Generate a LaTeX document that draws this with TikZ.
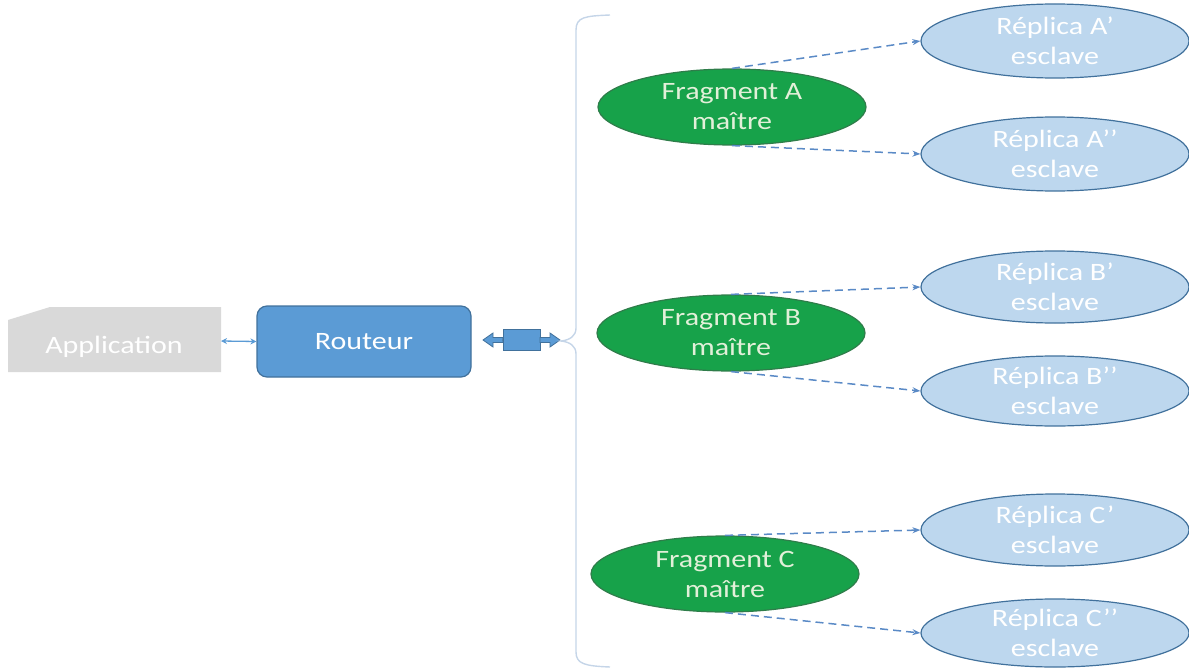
\documentclass[tikz,border=0pt]{standalone}
\usepackage{fontspec}
\setmainfont[FakeStretch=1.2]{Carlito}
\usetikzlibrary{shapes.geometric,arrows.meta}
\definecolor{gfill}{HTML}{17A24A}
\definecolor{gline}{HTML}{2F7D4A}
\definecolor{gtext}{HTML}{E2F0D9}
\definecolor{rfill}{HTML}{BDD7EE}
\definecolor{bline}{HTML}{41719C}
\definecolor{bfill}{HTML}{5B9BD5}
\definecolor{afill}{HTML}{D9D9D9}
\definecolor{dash}{HTML}{5A8AC6}
\definecolor{brace}{HTML}{C5D5E8}
\tikzset{
  master/.style={ellipse,draw=gline,fill=gfill,line width=1.2pt,minimum width=268pt,minimum height=76pt,inner sep=0pt,align=center,text=gtext,font=\fontsize{25}{30}\selectfont},
  replica/.style={ellipse,draw=bline,fill=rfill,line width=1.2pt,minimum width=268pt,minimum height=72pt,inner sep=0pt,align=center,text=white,font=\fontsize{25}{30}\selectfont},
  link/.style={draw=dash,line width=1.5pt,dash pattern=on 8pt off 5pt,-{Stealth[length=8pt,width=6pt]}},
}
\begin{document}
\begin{tikzpicture}[x=1pt,y=-1pt]
\useasboundingbox (0,0) rectangle (1189,669);
% Application
\fill[afill] (8,320) -- (50,307) -- (221,307) -- (221,372) -- (8,372) -- cycle;
\node[text=white,font=\fontsize{25}{30}\selectfont] (app) at (114,347) {Application};
\coordinate (appE) at (221,341);
% Routeur
\node[draw=bline,fill=bfill,line width=1.2pt,rounded corners=10pt,minimum width=214pt,minimum height=71pt,inner sep=0pt,text=white,font=\fontsize{25}{30}\selectfont] (rout) at (364,341.5) {Routeur};
\draw[bfill,line width=1.3pt,{Stealth[length=6pt,width=6pt]}-{Stealth[length=6pt,width=6pt]}] (appE) -- (rout.west);
% block double arrow
\node[draw=bline,fill=bfill,line width=0.8pt,minimum width=37pt,minimum height=21pt,inner sep=0pt] (mid) at (521.5,340) {};
\filldraw[fill=bfill,draw=bline,line width=0.8pt] (mid.west) ++(0,-2.5) -- (493,337.5) -- (493,333) -- (483,340) -- (493,347) -- (493,342.5) -- (503,342.5) -- cycle;
\filldraw[fill=bfill,draw=bline,line width=0.8pt] (540,337.5) -- (550,337.5) -- (550,333) -- (560,340) -- (550,347) -- (550,342.5) -- (540,342.5) -- cycle;
% brace
\coordinate (btip) at (561,341);
\draw[brace,line width=1.4pt] (610,15) .. controls (585,16) and (576,17) .. (576,30) -- (576,328) .. controls (576,336) and (570,340) .. (btip) .. controls (570,342) and (576,346) .. (576,354) -- (576,652) .. controls (576,664) and (585,666) .. (610,667);
% masters
\node[master] (fa) at (732,107) {Fragment A\\maître};
\node[master] (fb) at (731,333) {Fragment B\\maître};
\node[master] (fc) at (725,574) {Fragment C\\maître};
% replicas
\node[replica,minimum height=74pt] (ra1) at (1055,41) {Réplica A’\\esclave};
\node[replica,minimum height=74pt] (ra2) at (1055,154) {Réplica A’’\\esclave};
\node[replica] (rb1) at (1055,287) {Réplica B’\\esclave};
\node[replica,minimum height=70pt] (rb2) at (1055,391) {Réplica B’’\\esclave};
\node[replica] (rc1) at (1055,530) {Réplica C’\\esclave};
\node[replica,minimum height=68pt] (rc2) at (1055,633) {Réplica C’’\\esclave};
% links
\draw[link] (fa.north) -- (ra1.west);
\draw[link] (fa.south) -- (ra2.west);
\draw[link] (fb.north) -- (rb1.west);
\draw[link] (fb.south) -- (rb2.west);
\draw[link] (fc.north) -- (rc1.west);
\draw[link] (fc.south) -- (rc2.west);
\end{tikzpicture}
\end{document}
